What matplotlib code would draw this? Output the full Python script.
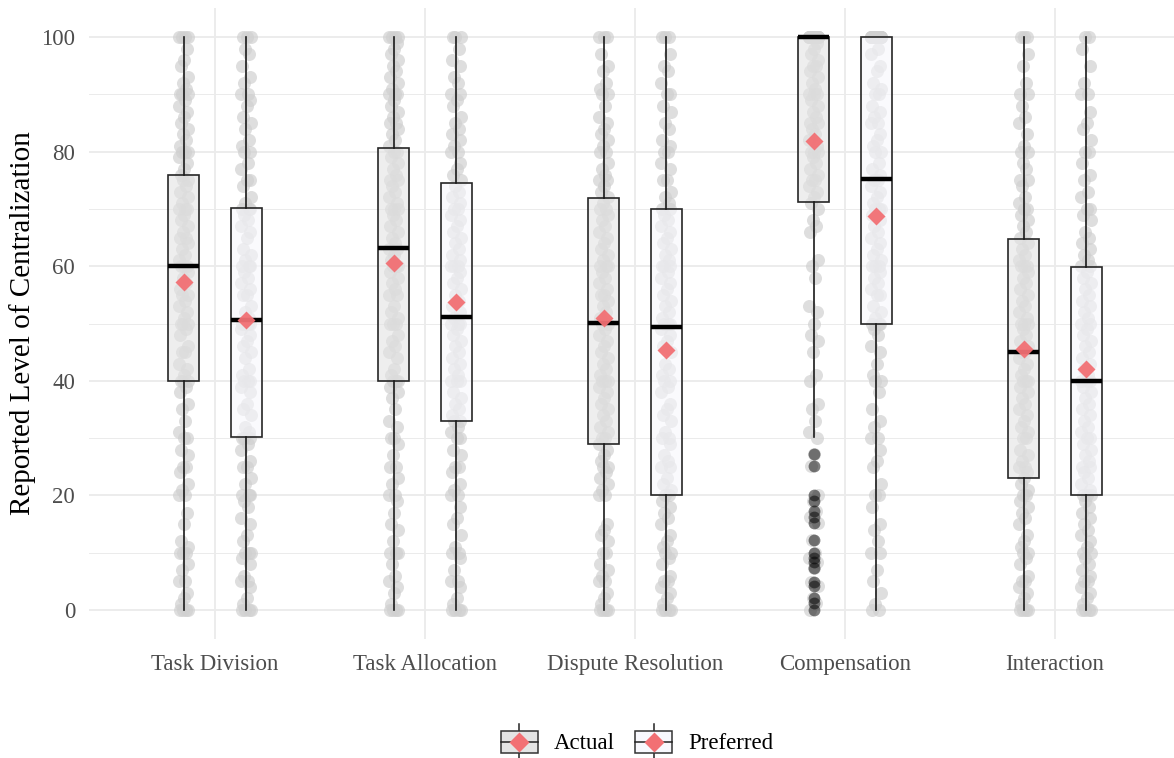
import matplotlib
matplotlib.use("Agg")
import matplotlib.pyplot as plt
from matplotlib.colors import to_rgba
from matplotlib.patches import Rectangle, Patch
from matplotlib.lines import Line2D
from matplotlib.legend_handler import HandlerBase

categories = ["Task Division", "Task Allocation", "Dispute Resolution", "Compensation", "Interaction"]
groups = ["Actual", "Preferred"]

# box summaries: [whislo, q1, med, q3, whishi, mean]
actual_stats = [
    [0, 40.0, 60.1, 76.0, 100, 57.2],
    [0, 40.0, 63.2, 80.6, 100, 60.6],
    [0, 29.0, 50.1, 71.9, 100, 51.0],
    [30.2, 71.2, 100, 100, 100, 81.8],
    [0, 23.0, 45.0, 64.7, 100, 45.5],
]
preferred_stats = [
    [0, 30.2, 50.6, 70.1, 100, 50.6],
    [0, 33.0, 51.1, 74.5, 100, 53.8],
    [0, 20.1, 49.4, 70.0, 100, 45.4],
    [0, 49.9, 75.2, 100, 100, 68.8],
    [0, 20.1, 40.0, 59.9, 100, 42.1],
]
comp_actual_fliers = [27.2, 25.1, 20.1, 19.1, 17.2, 16.3, 15.1, 12.2, 10.0, 9.0,
                      8.3, 7.3, 4.9, 4.1, 2.1, 1.2, 0]

# raw responses (jittered grey dots)
td_actual = [0, 0, 0, 0, 1, 2, 3, 5, 5, 7, 8, 10, 10, 10, 11, 12, 15, 17, 20, 20, 21, 22, 24,
             25, 25, 27, 28, 30, 30, 31, 33, 35, 36, 38, 39,
             40, 40, 40, 41, 42, 43, 45, 45, 46, 48, 49, 50, 50, 50, 51, 52, 53, 54, 55, 55,
             56, 57, 58, 59, 60, 60, 60,
             61, 62, 63, 64, 65, 65, 66, 67, 68, 69, 70, 70, 70, 71, 72, 73, 74, 75, 75, 76,
             77, 78, 79, 80, 80, 80, 81, 82, 83, 84, 85, 86, 87, 88, 89, 90, 90, 90, 91, 92,
             93, 95, 96, 98, 100, 100, 100, 100]
td_preferred = [0, 0, 0, 0, 1, 2, 4, 5, 5, 6, 8, 9, 10, 10, 10, 12, 13, 15, 16, 18, 19, 20,
                20, 20, 22, 23, 25, 25, 26, 28, 29, 30, 30,
                30, 31, 32, 34, 35, 36, 38, 39, 40, 40, 40, 41, 42, 44, 45, 46, 47, 48, 49,
                50, 50, 50, 50,
                51, 52, 53, 55, 55, 56, 57, 58, 59, 60, 60, 60, 61, 62, 63, 65, 66, 67, 68,
                69, 70, 70, 70,
                71, 72, 74, 75, 75, 77, 78, 80, 80, 81, 82, 84, 85, 86, 88, 89, 90, 90, 92,
                93, 95, 97, 98, 100, 100, 100]
ta_actual = [0, 0, 0, 0, 1, 3, 4, 5, 6, 8, 10, 10, 10, 12, 14, 15, 17, 19, 20, 20, 22, 23,
             25, 25, 27, 29, 30, 30, 32, 33, 35, 37, 38, 39,
             40, 40, 40, 41, 42, 44, 45, 46, 47, 48, 50, 50, 50, 51, 52, 53, 55, 55, 56, 57,
             58, 59, 60, 60, 60, 61, 62, 63,
             63, 64, 65, 66, 67, 68, 69, 70, 70, 70, 71, 72, 73, 74, 75, 75, 76, 77, 78, 79,
             80, 80,
             81, 82, 83, 84, 85, 85, 86, 87, 88, 89, 90, 90, 90, 91, 92, 93, 94, 95, 96, 97,
             98, 99, 100, 100, 100, 100]
ta_preferred = [0, 0, 0, 0, 1, 2, 4, 5, 5, 7, 9, 10, 10, 11, 13, 15, 16, 18, 20, 20, 21, 22,
                24, 25, 25, 27, 28, 30, 30, 31, 32, 33,
                33, 34, 35, 36, 37, 38, 40, 40, 40, 41, 42, 43, 44, 45, 46, 47, 48, 49, 50,
                50, 50, 51,
                52, 53, 54, 55, 56, 57, 58, 59, 60, 60, 60, 61, 62, 63, 64, 65, 66, 67, 68,
                69, 70, 70, 71, 72, 73, 74,
                75, 76, 77, 78, 80, 80, 81, 82, 83, 84, 85, 86, 88, 89, 90, 90, 92, 93, 95,
                96, 98, 100, 100, 100]
dr_actual = [0, 0, 0, 0, 1, 2, 3, 5, 5, 6, 7, 8, 10, 10, 12, 13, 14, 15, 20, 20, 21, 22, 23,
             24, 25, 25, 26, 27, 28,
             29, 30, 30, 31, 32, 33, 34, 35, 36, 37, 38, 39, 40, 40, 40, 41, 42, 43, 44, 45,
             46, 47, 48, 49, 50, 50,
             51, 52, 53, 54, 55, 55, 56, 57, 58, 59, 60, 60, 60, 61, 62, 63, 64, 65, 66, 67,
             68, 69, 70, 70, 71, 72,
             73, 74, 75, 75, 76, 77, 78, 80, 80, 81, 82, 83, 84, 85, 86, 88, 90, 90, 91, 92,
             94, 95, 97, 100, 100, 100]
dr_preferred = [0, 0, 0, 0, 1, 2, 3, 4, 5, 5, 6, 8, 9, 10, 10, 11, 12, 13, 15, 16, 17, 18,
                19, 20, 20,
                21, 22, 23, 25, 25, 26, 27, 29, 30, 30, 31, 33, 34, 35, 36, 38, 39, 40, 40,
                41, 42, 43, 45, 46, 47, 48, 49,
                50, 50, 50, 51, 52, 53, 54, 55, 56, 57, 58, 59, 60, 60, 60, 61, 62, 63, 64,
                65, 66, 67, 68, 69, 70, 70,
                71, 72, 73, 75, 75, 77, 78, 80, 80, 81, 82, 84, 85, 87, 88, 90, 90, 92, 94,
                95, 97, 100, 100, 100]
co_actual = [0, 1.2, 2.1, 4.1, 4.9, 7.3, 8.3, 9, 10, 12.2, 15.1, 16.3, 17.2, 19.1, 20.1, 25.1,
             27.2,
             30, 31, 33, 35, 36, 40, 41, 45, 47, 48, 50, 52, 53, 58, 60, 61, 66, 67, 68, 70,
             71, 72, 73, 74, 75, 75, 76, 77, 78, 79, 80, 80, 80, 81, 82, 83, 84, 85, 85, 86,
             87, 88, 89, 90, 90, 90, 91, 92, 93, 94, 95, 95, 96, 97, 98, 99,
             100, 100, 100, 100, 100, 100, 100, 100, 100, 100, 100, 100, 100, 100, 100,
             100, 100, 100, 100, 100, 100, 100, 100, 100, 100, 100, 100, 100, 100, 100]
co_preferred = [0, 0, 1, 3, 5, 7, 10, 10, 12, 14, 15, 18, 20, 20, 22, 25, 26, 28, 30, 30, 32,
                33, 35, 38, 40, 40, 41, 43, 45, 46, 48, 49,
                50, 50, 50, 51, 52, 53, 55, 55, 56, 57, 58, 59, 60, 60, 60, 61, 62, 63, 64,
                65, 66, 67, 68, 69, 70, 70, 70, 71, 72, 73, 74, 75, 75,
                76, 77, 78, 80, 80, 81, 82, 83, 85, 85, 86, 87, 88, 90, 90, 91, 92, 94, 95,
                97, 98,
                100, 100, 100, 100, 100, 100, 100, 100, 100, 100, 100, 100, 100, 100, 100,
                100, 100, 100, 100, 100, 100, 100, 100, 100, 100, 100, 100, 100, 100, 100,
                100, 100, 100]
in_actual = [0, 0, 0, 0, 1, 2, 3, 4, 5, 5, 6, 8, 9, 10, 10, 11, 12, 13, 15, 16, 17, 18, 19,
             20, 20, 21, 22,
             23, 24, 25, 25, 26, 27, 28, 30, 30, 31, 32, 33, 34, 35, 36, 37, 38, 39, 40, 40,
             40, 41, 42, 43, 44, 45,
             45, 46, 47, 48, 49, 50, 50, 50, 51, 52, 53, 54, 55, 56, 57, 58, 59, 60, 60, 60,
             61, 62, 63, 64, 65,
             66, 67, 68, 69, 70, 70, 71, 72, 74, 75, 75, 77, 78, 80, 80, 81, 83, 85, 86, 88,
             90, 90, 92, 95, 97, 100, 100, 100]
in_preferred = [0, 0, 0, 0, 1, 2, 3, 4, 5, 5, 6, 7, 8, 9, 10, 10, 11, 12, 13, 14, 15, 16, 17,
                18, 19, 20, 20,
                20, 21, 22, 23, 24, 25, 25, 26, 27, 28, 29, 30, 30, 31, 32, 33, 34, 35, 36,
                37, 38, 39, 40, 40,
                40, 41, 42, 43, 44, 45, 46, 47, 48, 49, 50, 50, 51, 52, 53, 54, 55, 56, 57,
                58, 59, 60, 60,
                61, 62, 63, 64, 65, 66, 68, 69, 70, 70, 72, 73, 75, 76, 78, 80, 80, 82, 84,
                85, 87, 90, 90, 92, 95, 98, 100, 100]

actual_points = [td_actual, ta_actual, dr_actual, co_actual, in_actual]
preferred_points = [td_preferred, ta_preferred, dr_preferred, co_preferred, in_preferred]

plt.rcParams["font.family"] = ["Liberation Serif", "DejaVu Serif"]

box_fill = {"Actual": "#e4e4e4", "Preferred": "#f8f8fd"}
mean_color = "#f27074"
dot_color = "#d0d0d0"
jitter = [-0.020, 0.011, -0.005, 0.022, -0.014, 0.003, 0.016, -0.023, 0.007, -0.010, 0.019]
dodge = 0.149
box_w = 0.148

fig = plt.figure(figsize=(11.74, 7.58), dpi=100)
ax = fig.add_axes([89 / 1174, 1 - 638.6 / 758, 1 - 89 / 1174, (638.6 - 8.4) / 758])

for gi, (stats, points) in enumerate([(actual_stats, actual_points), (preferred_stats, preferred_points)]):
    group = groups[gi]
    shift = -dodge if gi == 0 else dodge
    positions = [i + 1 + shift for i in range(len(categories))]

    # dots first, boxes go over them
    for pos, vals in zip(positions, points):
        xs = [pos + jitter[k % len(jitter)] for k in range(len(vals))]
        ax.scatter(xs, vals, s=88, color=dot_color, alpha=0.7, linewidths=0, zorder=1.5)

    bstats = []
    for ci, (lo, q1, med, q3, hi, mean) in enumerate(stats):
        fliers = comp_actual_fliers if (gi == 0 and ci == 3) else []
        bstats.append({"whislo": lo, "q1": q1, "med": med, "q3": q3, "whishi": hi,
                       "mean": mean, "fliers": fliers})

    ax.bxp(bstats, positions=positions, widths=box_w, patch_artist=True,
           showmeans=True, showcaps=False, manage_ticks=False,
           boxprops=dict(facecolor=to_rgba(box_fill[group], 0.6), edgecolor="#262626", linewidth=1.2),
           whiskerprops=dict(color="#1a1a1a", linewidth=1.2),
           medianprops=dict(color="black", linewidth=3.2),
           meanprops=dict(marker="D", markerfacecolor=mean_color, markeredgecolor="none",
                          markersize=9.5, alpha=0.95),
           flierprops=dict(marker="o", markerfacecolor="black", markeredgecolor="none",
                           markersize=8.5, alpha=0.5))

ax.set_xlim(0.4, 5.6 - 7 / 210)
ax.set_ylim(-5, 105)
ax.set_xticks(range(1, len(categories) + 1))
ax.set_xticklabels(categories)
ax.set_yticks([0, 20, 40, 60, 80, 100])
ax.set_yticks([10, 30, 50, 70, 90], minor=True)
ax.tick_params(axis="both", which="both", length=0, labelsize=16.5, labelcolor="#4d4d4d")
ax.tick_params(axis="x", pad=11)
ax.tick_params(axis="y", pad=10)
ax.grid(True, which="major", color="#ebebeb", linewidth=1.3)
ax.grid(True, which="minor", axis="y", color="#ebebeb", linewidth=0.7)
ax.set_axisbelow(True)
for s in ax.spines.values():
    s.set_visible(False)
ax.set_ylabel("Reported Level of Centralization", fontsize=21, color="black")
ax.yaxis.set_label_coords((36 - 89) / 1085, 0.5)


class BoxHandler(HandlerBase):
    def create_artists(self, legend, orig_handle, xdescent, ydescent, width, height, fontsize, trans):
        x0, y0 = -xdescent, -ydescent
        cx, cy = x0 + width / 2, y0 + height / 2
        bh = height * 0.6
        line = Line2D([cx, cx], [y0, y0 + height], color="#222222", linewidth=1.1, transform=trans)
        rect = Rectangle((x0, cy - bh / 2), width, bh, facecolor=orig_handle.get_facecolor(),
                         edgecolor="#333333", linewidth=1.1, transform=trans)
        mid = Line2D([x0, x0 + width], [cy, cy], color="#222222", linewidth=1.1, transform=trans)
        dia = Line2D([cx], [cy], marker="D", markersize=10, markerfacecolor=mean_color,
                     markeredgecolor="none", transform=trans)
        return [line, rect, mid, dia]


handles = [Patch(facecolor=box_fill[g], label=g) for g in groups]
fig.legend(handles=handles, labels=groups, loc="center", bbox_to_anchor=(637 / 1174, 1 - 742 / 758),
           ncol=2, frameon=False, fontsize=16.5, handlelength=1.6, handleheight=2.0,
           handletextpad=0.7, columnspacing=0.9,
           handler_map={Patch: BoxHandler()})

fig.savefig("out.png", dpi=100)
